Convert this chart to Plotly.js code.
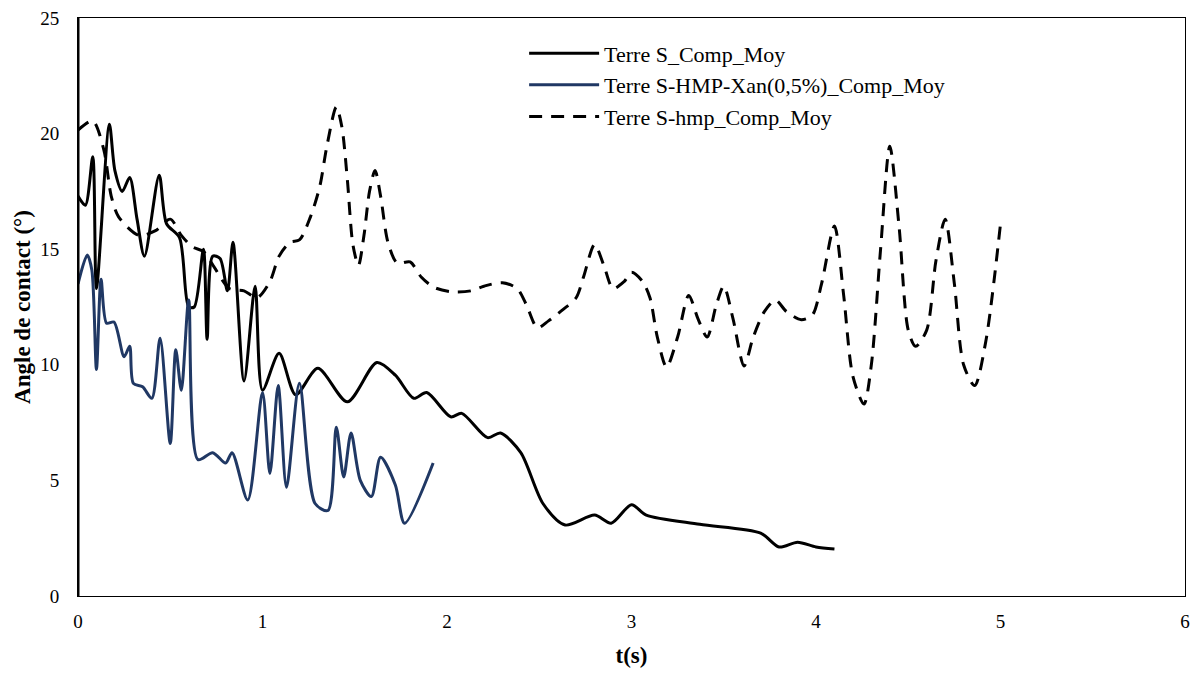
<!DOCTYPE html>
<html>
<head>
<meta charset="utf-8">
<script src="https://cdn.plot.ly/plotly-3.0.1.min.js"></script>
<style>html,body{margin:0;padding:0;background:#fff;}#chart{width:1201px;height:677px;}</style>
</head>
<body>
<div id="chart"></div>
<script>
// Series names
const seriesNames = ["Terre S_Comp_Moy", "Terre S-HMP-Xan(0,5%)_Comp_Moy", "Terre S-hmp_Comp_Moy"];

// Terre S_Comp_Moy
const tS = [0, 0.04, 0.08, 0.10, 0.17, 0.20, 0.24, 0.28, 0.32, 0.36, 0.44, 0.48, 0.55, 0.60, 0.63, 0.68, 0.70, 0.73, 0.77, 0.81, 0.84, 0.90, 0.96, 1.00, 1.09, 1.18, 1.30, 1.46, 1.62, 1.72, 1.82, 1.89, 2.02, 2.08, 2.22, 2.29, 2.40, 2.52, 2.64, 2.80, 2.89, 3.00, 3.08, 3.37, 3.70, 3.80, 3.90, 4.00, 4.10];
const vS = [17.3, 16.9, 19.0, 13.3, 20.4, 18.4, 17.5, 18.1, 16.3, 14.7, 18.2, 16.1, 15.5, 12.5, 12.5, 15.0, 11.1, 14.7, 14.6, 13.2, 15.3, 9.3, 13.4, 8.9, 10.5, 8.7, 9.85, 8.4, 10.1, 9.55, 8.55, 8.8, 7.75, 7.9, 6.85, 7.05, 6.2, 4.0, 3.07, 3.5, 3.15, 3.95, 3.5, 3.1, 2.72, 2.12, 2.33, 2.12, 2.03];

// Terre S-HMP-Xan(0,5%)_Comp_Moy
const tX = [0, 0.05, 0.075, 0.10, 0.125, 0.155, 0.195, 0.25, 0.28, 0.30, 0.35, 0.40, 0.445, 0.50, 0.53, 0.56, 0.60, 0.65, 0.73, 0.80, 0.835, 0.92, 1.00, 1.04, 1.085, 1.13, 1.20, 1.285, 1.355, 1.40, 1.44, 1.48, 1.53, 1.59, 1.64, 1.72, 1.77, 1.925];
const vX = [13.5, 14.75, 14.1, 9.8, 13.7, 11.8, 11.85, 10.35, 10.8, 9.2, 9.05, 8.55, 11.15, 6.6, 10.65, 8.9, 12.8, 5.9, 6.2, 5.75, 6.2, 4.15, 8.8, 5.3, 9.1, 4.7, 9.2, 4.0, 3.7, 7.3, 5.15, 7.05, 5.0, 4.3, 6.0, 4.8, 3.15, 5.75];

// Terre S-hmp_Comp_Moy
const tH = [0, 0.08, 0.14, 0.18, 0.22, 0.33, 0.42, 0.50, 0.56, 0.62, 0.68, 0.74, 0.82, 0.90, 0.97, 1.04, 1.09, 1.15, 1.20, 1.26, 1.31, 1.35, 1.40, 1.43, 1.46, 1.49, 1.52, 1.55, 1.58, 1.61, 1.64, 1.68, 1.73, 1.80, 1.86, 1.93, 2.03, 2.13, 2.20, 2.30, 2.38, 2.43, 2.49, 2.55, 2.63, 2.70, 2.74, 2.80, 2.85, 2.90, 2.96, 3.00, 3.06, 3.10, 3.14, 3.19, 3.25, 3.31, 3.36, 3.41, 3.46, 3.50, 3.55, 3.61, 3.66, 3.72, 3.78, 3.84, 3.92, 3.98, 4.03, 4.10, 4.15, 4.20, 4.26, 4.30, 4.35, 4.40, 4.45, 4.50, 4.54, 4.60, 4.65, 4.70, 4.75, 4.80, 4.86, 4.92, 5.00];
const vH = [20.15, 20.55, 19.3, 17.3, 16.4, 15.6, 15.8, 16.3, 15.6, 15.1, 14.9, 14.2, 13.3, 13.2, 12.9, 13.6, 14.7, 15.3, 15.4, 16.4, 17.7, 19.5, 21.15, 20.3, 18.0, 15.2, 14.3, 15.6, 17.5, 18.4, 17.3, 15.3, 14.4, 14.45, 13.8, 13.35, 13.15, 13.2, 13.4, 13.55, 13.3, 12.6, 11.6, 11.9, 12.4, 12.9, 13.8, 15.2, 14.3, 13.3, 13.6, 14.0, 13.6, 12.9, 11.2, 9.9, 11.2, 13.0, 12.0, 11.2, 12.6, 13.4, 12.0, 9.95, 11.2, 12.3, 12.8, 12.3, 11.95, 12.15, 13.5, 16.0, 13.0, 9.5, 8.3, 10.0, 15.0, 19.45, 16.0, 11.5, 10.8, 11.5, 14.5, 16.3, 13.5, 10.0, 9.1, 11.0, 16.1];

// Axis ticks
const xTicks = [0, 1, 2, 3, 4, 5, 6];
const yTicks = [0, 5, 10, 15, 20, 25];

const serif = "Liberation Serif, DejaVu Serif, serif";

const traces = [
  {x: tS, y: vS, name: seriesNames[0], mode: "lines",
   line: {color: "#000000", width: 3, shape: "spline", smoothing: 0.8}},
  {x: tX, y: vX, name: seriesNames[1], mode: "lines",
   line: {color: "#203864", width: 3, shape: "spline", smoothing: 0.8}},
  {x: tH, y: vH, name: seriesNames[2], mode: "lines",
   line: {color: "#000000", width: 3, shape: "spline", smoothing: 0.8, dash: "13px,9px"}}
];

const layout = {
  width: 1201, height: 677,
  margin: {l: 78, r: 16, t: 18, b: 81},
  paper_bgcolor: "#ffffff", plot_bgcolor: "#ffffff",
  font: {family: serif, color: "#000000", size: 19},
  showlegend: true,
  legend: {x: 0.403, y: 0.975, xanchor: "left", yanchor: "top",
           bgcolor: "rgba(0,0,0,0)", font: {family: serif, size: 22, color: "#000"},
           tracegroupgap: 0, itemwidth: 70},
  xaxis: {range: [0, 6], tickvals: xTicks, ticktext: xTicks.map(String),
          showgrid: false, zeroline: false, showline: true, linecolor: "#000", linewidth: 1,
          mirror: true, ticks: "", tickfont: {family: serif, size: 19}, ticklabelstandoff: 8,
          title: {text: "<b>t(s)</b>", font: {family: serif, size: 23}, standoff: 16}},
  yaxis: {range: [0, 25], tickvals: yTicks, ticktext: yTicks.map(String),
          showgrid: false, zeroline: false, showline: true, linecolor: "#000", linewidth: 1,
          mirror: true, ticks: "", tickfont: {family: serif, size: 19}, ticklabelstandoff: 14,
          title: {text: "<b>Angle de contact (°)</b>", font: {family: serif, size: 23}, standoff: 3}},
  shapes: [{type: "line", xref: "x", yref: "paper", x0: 0, x1: 0, y0: 0, y1: 1,
            line: {color: "#000", width: 3}}]
};

Plotly.newPlot("chart", traces, layout, {displayModeBar: false, staticPlot: true});
</script>
</body>
</html>
